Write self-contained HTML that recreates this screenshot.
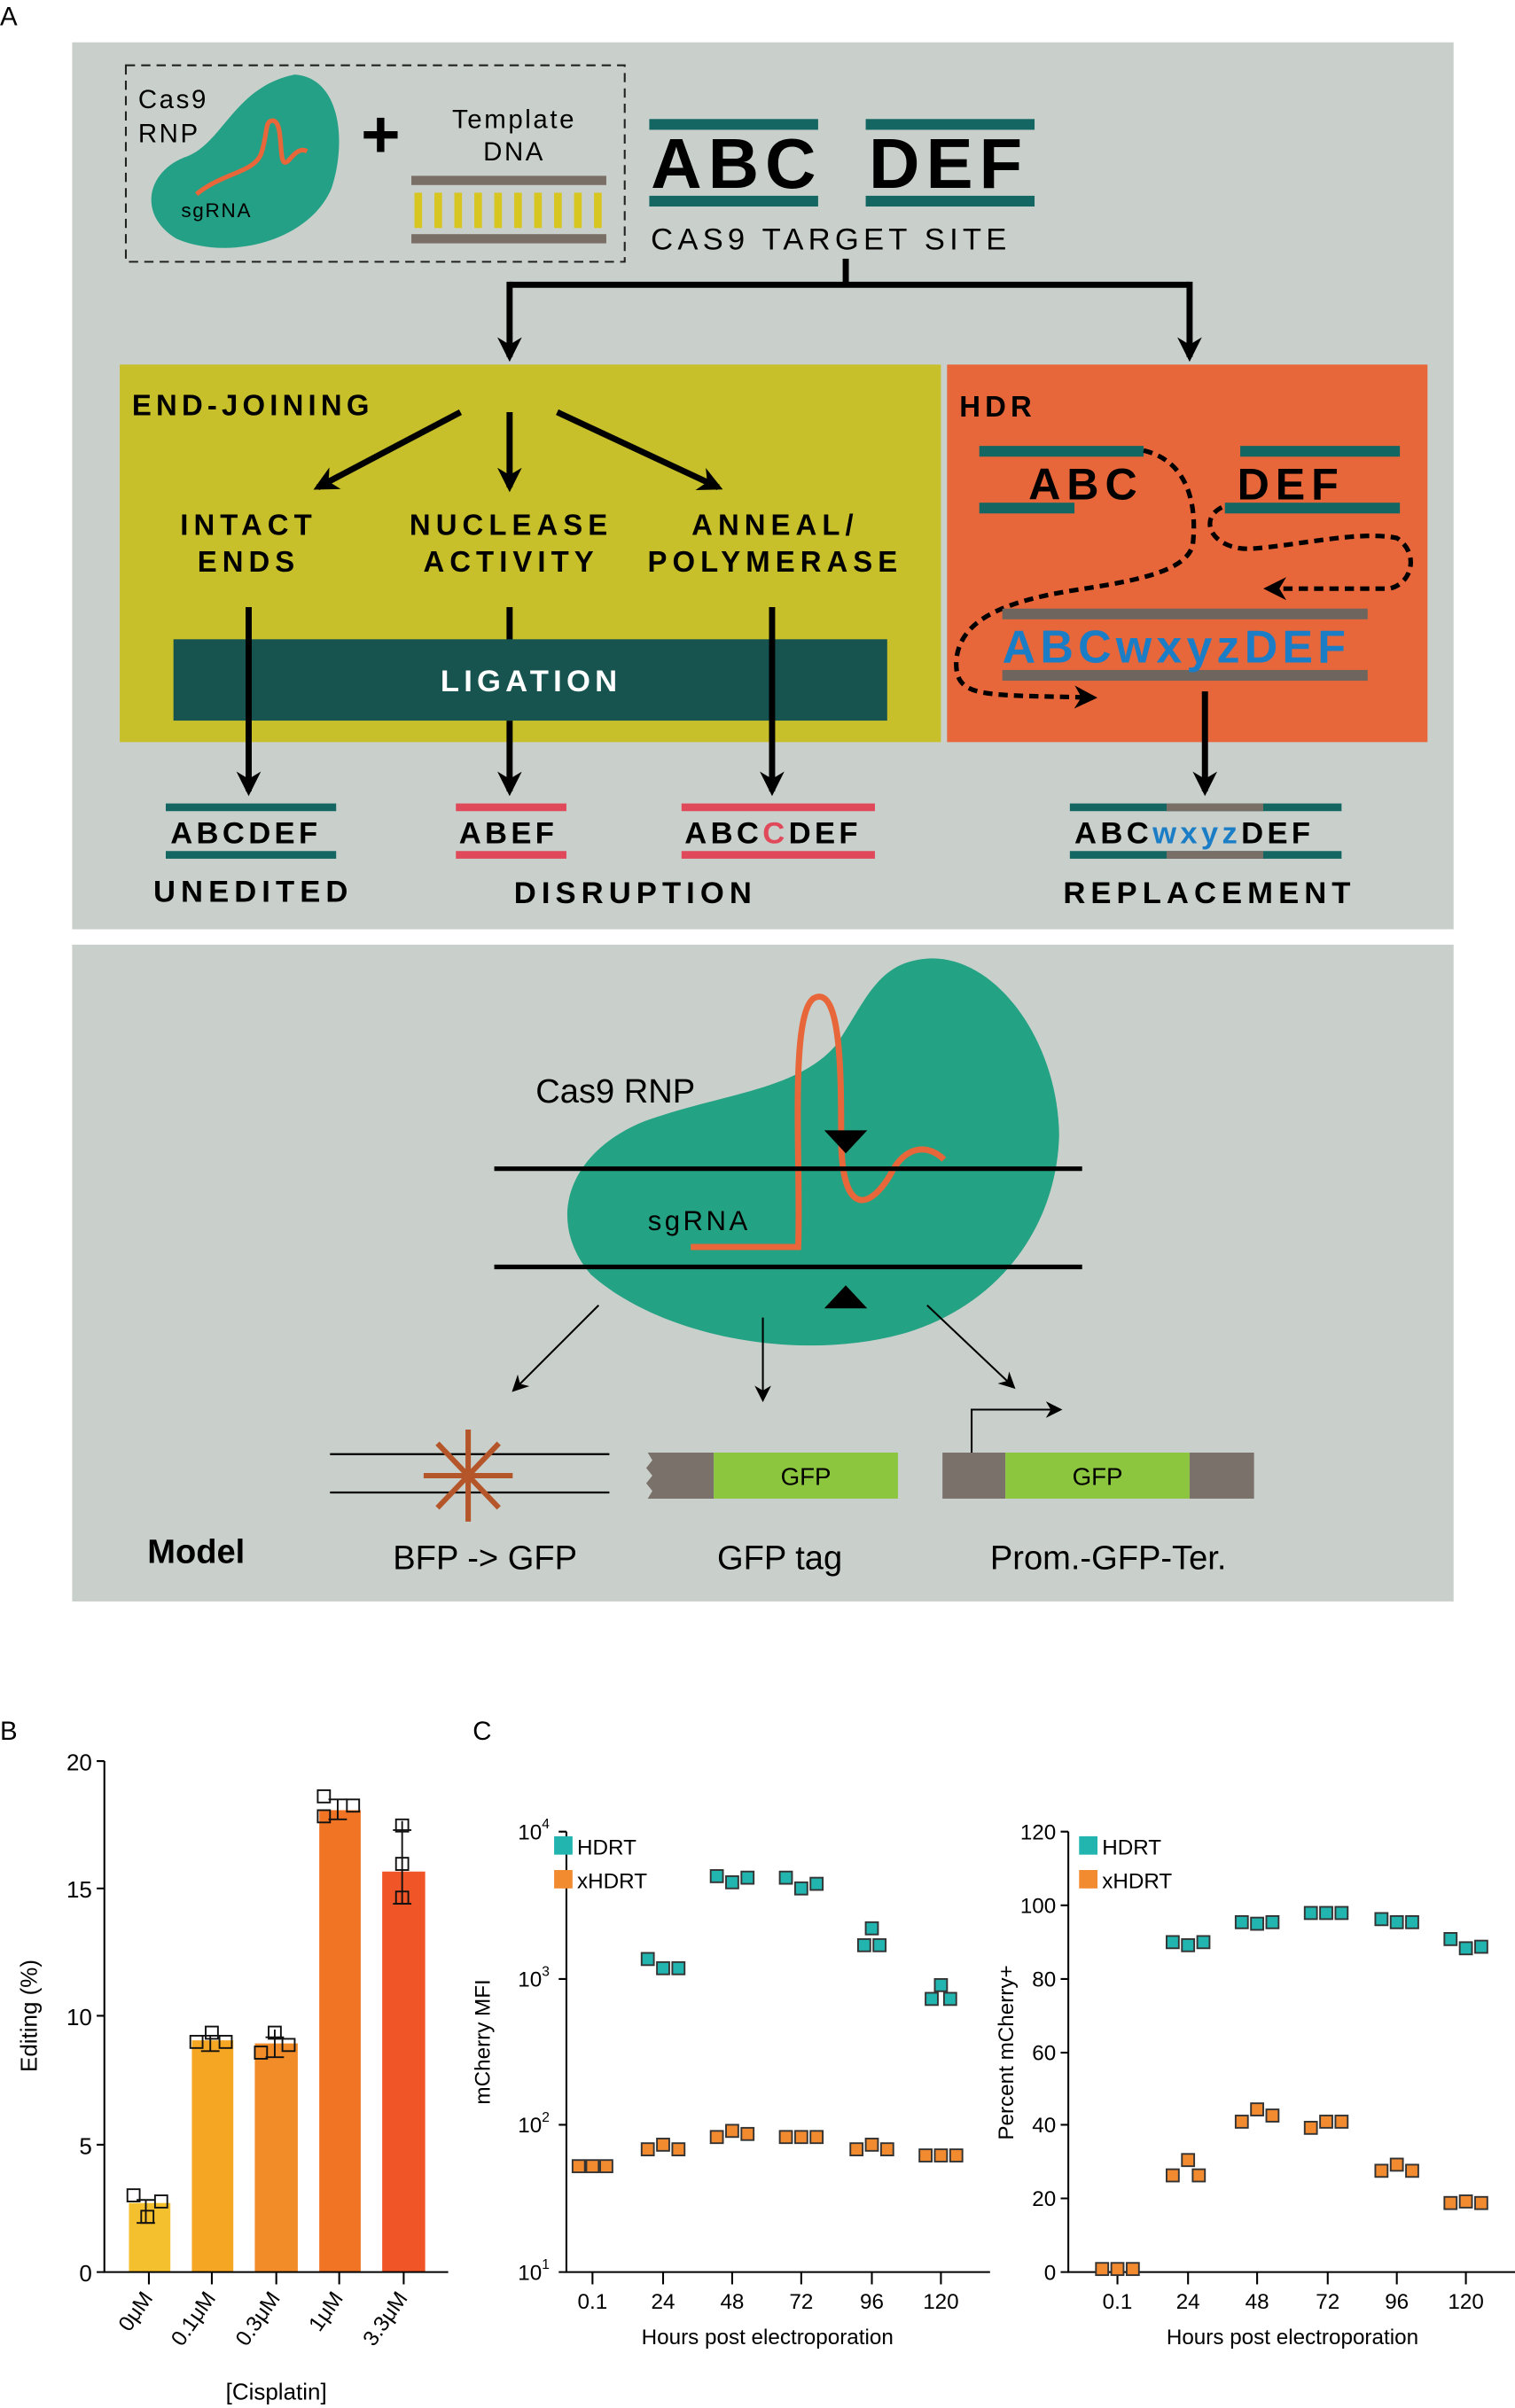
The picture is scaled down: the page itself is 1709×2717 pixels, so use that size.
<!DOCTYPE html>
<html><head><meta charset="utf-8"><style>
html,body{margin:0;padding:0;background:#fff;}
svg{display:block;}
text{font-family:"Liberation Sans",sans-serif;}
.b{font-weight:bold;}
</style></head><body>
<svg width="1709" height="2717" viewBox="0 0 987 1568" xmlns="http://www.w3.org/2000/svg">
<defs>
<marker id="ah" viewBox="0 0 10 10" refX="8" refY="5" markerWidth="4" markerHeight="4" orient="auto"><path d="M0,0 L10,5 L0,10 L3,5 z" fill="#000"/></marker>
<marker id="ahs" viewBox="0 0 10 10" refX="8" refY="5" markerWidth="9" markerHeight="9" orient="auto"><path d="M0,0 L10,5 L0,10 L3,5 z" fill="#000"/></marker>
<marker id="ahd" viewBox="0 0 10 10" refX="8" refY="5" markerWidth="5" markerHeight="5" orient="auto"><path d="M0,0 L10,5 L0,10 L3,5 z" fill="#000"/></marker>
</defs>
<text x="0" y="16" font-size="17">A</text>
<rect x="47" y="27" width="900" height="578" fill="#c9d0cb"/>
<rect x="82" y="42" width="325" height="128" fill="none" stroke="#222" stroke-width="1.2" stroke-dasharray="6,4"/>
<text x="90" y="70" font-size="17" letter-spacing="1.5">Cas9</text>
<text x="90" y="92" font-size="17" letter-spacing="1.5">RNP</text>
<path d="M192,48 C222,50 226,92 216,122 C202,156 150,170 115,155 C90,140 95,112 120,102 C145,94 152,56 192,48 Z" fill="#23a085"/>
<path d="M128,126 C145,112 165,112 170,100 C175,85 172,78 178,78 C186,80 180,112 188,104 C193,98 196,96 200,98" stroke="#e8673a" stroke-width="3" fill="none"/>
<text x="118" y="141" font-size="13" letter-spacing="1">sgRNA</text>
<text x="248" y="102" font-size="44" class="b" text-anchor="middle">+</text>
<text x="335" y="83" font-size="17" text-anchor="middle" letter-spacing="1.5">Template</text>
<text x="335" y="104" font-size="17" text-anchor="middle" letter-spacing="1.5">DNA</text>
<rect x="268" y="114" width="127" height="6" fill="#7a6f66"/>
<rect x="268" y="152" width="127" height="6" fill="#7a6f66"/>
<g fill="#d7c622">
<rect x="270" y="125" width="5" height="23"/><rect x="283" y="125" width="5" height="23"/><rect x="296" y="125" width="5" height="23"/><rect x="309" y="125" width="5" height="23"/><rect x="322" y="125" width="5" height="23"/><rect x="335" y="125" width="5" height="23"/><rect x="348" y="125" width="5" height="23"/><rect x="361" y="125" width="5" height="23"/><rect x="374" y="125" width="5" height="23"/><rect x="387" y="125" width="5" height="23"/>
</g>
<g fill="#136662">
<rect x="423" y="77" width="110" height="7"/><rect x="564" y="77" width="110" height="7"/>
<rect x="423" y="127" width="110" height="7"/><rect x="564" y="127" width="110" height="7"/>
</g>
<text x="424" y="122" font-size="46" class="b" letter-spacing="4">ABC</text>
<text x="566" y="122" font-size="46" class="b" letter-spacing="4">DEF</text>
<text x="424" y="162" font-size="20" letter-spacing="3">CAS9 TARGET SITE</text>
<path d="M551,168 V185 M332,185 H775" stroke="#000" stroke-width="4" fill="none"/>
<line x1="332" y1="183" x2="332" y2="232" stroke="#000" stroke-width="4" marker-end="url(#ah)"/>
<line x1="775" y1="183" x2="775" y2="232" stroke="#000" stroke-width="4" marker-end="url(#ah)"/>
<rect x="78" y="237" width="535" height="246" fill="#c8c02a"/>
<rect x="617" y="237" width="313" height="246" fill="#e8673a"/>
<text x="86" y="270" font-size="19" class="b" letter-spacing="3">END-JOINING</text>
<g stroke="#000" stroke-width="4" marker-end="url(#ah)">
<line x1="300" y1="268" x2="207" y2="317"/>
<line x1="332" y1="268" x2="332" y2="317"/>
<line x1="363" y1="268" x2="468" y2="317"/>
</g>
<g font-size="19" class="b" letter-spacing="3.5" text-anchor="middle">
<text x="162" y="348">INTACT</text><text x="162" y="372">ENDS</text>
<text x="333" y="348">NUCLEASE</text><text x="333" y="372">ACTIVITY</text>
<text x="505" y="348">ANNEAL/</text><text x="505" y="372">POLYMERASE</text>
</g>
<line x1="332" y1="395" x2="332" y2="420" stroke="#000" stroke-width="4"/>
<rect x="113" y="416" width="465" height="53" fill="#17544f"/>
<text x="346" y="450" font-size="20" class="b" fill="#fff" text-anchor="middle" letter-spacing="3">LIGATION</text>
<g stroke="#000" stroke-width="4" marker-end="url(#ah)">
<line x1="162" y1="395" x2="162" y2="515"/>
<line x1="332" y1="469" x2="332" y2="515"/>
<line x1="503" y1="395" x2="503" y2="515"/>
<line x1="785" y1="450" x2="785" y2="515"/>
</g>
<text x="625" y="271" font-size="19" class="b" letter-spacing="3">HDR</text>
<g fill="#136662">
<rect x="638" y="290" width="107" height="7"/><rect x="808" y="290" width="104" height="7"/>
<rect x="638" y="327" width="62" height="7"/><rect x="798" y="327" width="114" height="7"/>
</g>
<text x="670" y="325" font-size="29" class="b" letter-spacing="4">ABC</text>
<text x="806" y="325" font-size="29" class="b" letter-spacing="4">DEF</text>
<path d="M745,293 C775,300 780,330 777,355 C772,372 740,378 700,384 C650,392 625,405 623,430 C622,455 640,452 712,454" stroke="#000" stroke-width="3" stroke-dasharray="6,4" fill="none" marker-end="url(#ahd)"/>
<path d="M796,330 C780,338 790,358 815,357 C845,355 885,345 910,350 C925,360 920,380 905,383 L826,383" stroke="#000" stroke-width="3" stroke-dasharray="6,4" fill="none" marker-end="url(#ahd)"/>
<rect x="653" y="396" width="238" height="7" fill="#6e665e"/>
<rect x="653" y="436" width="238" height="7" fill="#6e665e"/>
<text x="653" y="431" font-size="30" class="b" fill="#1a7dc6" letter-spacing="3">ABCwxyzDEF</text>
<rect x="108" y="523" width="111" height="5" fill="#136662"/><rect x="108" y="554" width="111" height="5" fill="#136662"/>
<text x="111" y="549" font-size="20" class="b" letter-spacing="2.5">ABCDEF</text>
<rect x="297" y="523" width="72" height="5" fill="#e0495a"/><rect x="297" y="554" width="72" height="5" fill="#e0495a"/>
<text x="299" y="549" font-size="20" class="b" letter-spacing="2.5">ABEF</text>
<rect x="444" y="523" width="126" height="5" fill="#e0495a"/><rect x="444" y="554" width="126" height="5" fill="#e0495a"/>
<text x="446" y="549" font-size="20" class="b" letter-spacing="2.5">ABC<tspan fill="#e0495a">C</tspan>DEF</text>
<rect x="697" y="523" width="177" height="5" fill="#136662"/><rect x="697" y="554" width="177" height="5" fill="#136662"/>
<rect x="760" y="523" width="63" height="5" fill="#7a6f66"/><rect x="760" y="554" width="63" height="5" fill="#7a6f66"/>
<text x="700" y="549" font-size="20" class="b" letter-spacing="2.5">ABC<tspan fill="#1a7dc6">wxyz</tspan>DEF</text>
<g font-size="20" class="b" letter-spacing="3.5" text-anchor="middle">
<text x="165" y="587">UNEDITED</text>
<text x="414" y="588">DISRUPTION</text>
<text x="788" y="588">REPLACEMENT</text>
</g>
<rect x="47" y="615" width="900" height="428" fill="#c9d0cb"/>
<path d="M605,624 C650,622 690,680 690,740 C688,800 650,850 590,868 C520,888 430,870 385,830 C355,795 370,750 420,730 C470,712 520,710 545,680 C565,650 572,626 605,624 Z" fill="#24a284"/>
<path d="M450,812 L520,812 C522,760 514,662 530,650 C548,640 548,700 548,740 C548,790 565,790 580,765 C590,745 605,745 615,755" stroke="#e8673a" stroke-width="4" fill="none"/>
<line x1="322" y1="761" x2="705" y2="761" stroke="#000" stroke-width="3"/>
<line x1="322" y1="825" x2="705" y2="825" stroke="#000" stroke-width="3"/>
<path d="M537,736 L565,736 L551,751 Z" fill="#000"/>
<path d="M537,852 L565,852 L551,837 Z" fill="#000"/>
<text x="349" y="718" font-size="22">Cas9 RNP</text>
<text x="422" y="801" font-size="18" letter-spacing="2">sgRNA</text>
<g stroke="#000" stroke-width="1.2" marker-end="url(#ahs)">
<line x1="390" y1="850" x2="335" y2="905"/>
<line x1="497" y1="858" x2="497" y2="911"/>
<line x1="604" y1="850" x2="660" y2="903"/>
</g>
<line x1="215" y1="947" x2="397" y2="947" stroke="#000" stroke-width="1.3"/>
<line x1="215" y1="972" x2="397" y2="972" stroke="#000" stroke-width="1.3"/>
<g stroke="#b5562a" stroke-width="3.5">
<line x1="305" y1="931" x2="305" y2="991"/><line x1="276" y1="961" x2="334" y2="961"/>
<line x1="285" y1="940" x2="325" y2="982"/><line x1="325" y1="940" x2="285" y2="982"/>
</g>
<path d="M422,946 L465,946 L465,976 L422,976 L425,971 L421,966 L425,961 L421,956 L425,951 Z" fill="#7a716a"/>
<rect x="465" y="946" width="120" height="30" fill="#8cc63f"/>
<text x="525" y="967" font-size="16" text-anchor="middle">GFP</text>
<rect x="614" y="946" width="41" height="30" fill="#7a716a"/>
<rect x="655" y="946" width="120" height="30" fill="#8cc63f"/>
<rect x="775" y="946" width="42" height="30" fill="#7a716a"/>
<text x="715" y="967" font-size="16" text-anchor="middle">GFP</text>
<path d="M633,946 V918 H690" stroke="#000" stroke-width="1.2" fill="none" marker-end="url(#ahs)"/>
<text x="96" y="1018" font-size="22" class="b">Model</text>
<g font-size="22" text-anchor="middle">
<text x="316" y="1022">BFP -&gt; GFP</text>
<text x="508" y="1022">GFP tag</text>
<text x="722" y="1022">Prom.-GFP-Ter.</text>
</g>
<text x="0" y="1133" font-size="17">B</text>
<text x="308" y="1133" font-size="17">C</text>
<rect x="84" y="1435" width="27" height="45" fill="#f5c02e"/>
<rect x="125" y="1329" width="27" height="151" fill="#f5a623"/>
<rect x="166" y="1331" width="28" height="149" fill="#f28c28"/>
<rect x="208" y="1179" width="27" height="301" fill="#f07424"/>
<rect x="249" y="1219" width="28" height="261" fill="#ef5527"/>
<g stroke="#000" stroke-width="1.2" fill="none">
<path d="M68,1147 V1480 H292"/>
<path d="M63,1147 H68 M63,1230 H68 M63,1313 H68 M63,1397 H68 M63,1480 H68"/>
<path d="M97,1480 V1488 M138,1480 V1488 M180,1480 V1488 M221,1480 V1488 M263,1480 V1488"/>
</g>
<g font-size="15" text-anchor="end">
<text x="60" y="1153">20</text><text x="60" y="1236">15</text><text x="60" y="1319">10</text><text x="60" y="1403">5</text><text x="60" y="1486">0</text>
</g>
<g font-size="14" text-anchor="end">
<text transform="translate(100,1497) rotate(-55)">0μM</text>
<text transform="translate(141,1497) rotate(-55)">0.1μM</text>
<text transform="translate(183,1497) rotate(-55)">0.3μM</text>
<text transform="translate(224,1497) rotate(-55)">1μM</text>
<text transform="translate(266,1497) rotate(-55)">3.3μM</text>
</g>
<text x="180" y="1563" font-size="15" text-anchor="middle">[Cisplatin]</text>
<text transform="translate(24,1313) rotate(-90)" font-size="15" text-anchor="middle">Editing (%)</text>
<g fill="none" stroke="#111" stroke-width="1.1">
<rect x="83" y="1426" width="8" height="8"/><rect x="92" y="1440" width="8" height="8"/><rect x="101" y="1430" width="8" height="8"/>
<path d="M89,1433 H101 M95,1433 V1448 M89,1448 H101"/>
<rect x="124" y="1326" width="8" height="8"/><rect x="134" y="1320" width="8" height="8"/><rect x="143" y="1326" width="8" height="8"/>
<path d="M131,1326 H143 M137,1326 V1336 M131,1336 H143"/>
<rect x="166" y="1333" width="8" height="8"/><rect x="175" y="1320" width="8" height="8"/><rect x="184" y="1328" width="8" height="8"/>
<path d="M173,1327 H185 M179,1322 V1340 M173,1340 H185"/>
<rect x="207" y="1166" width="8" height="8"/><rect x="207" y="1179" width="8" height="8"/><rect x="226" y="1172" width="8" height="8"/>
<path d="M214,1172 H226 M220,1172 V1185 M214,1185 H226"/>
<rect x="258" y="1185" width="8" height="8"/><rect x="258" y="1210" width="8" height="8"/><rect x="258" y="1232" width="8" height="8"/>
<path d="M256,1192 H268 M262,1186 V1240 M256,1240 H268"/>
</g>
<g stroke="#000" stroke-width="1.2" fill="none">
<path d="M369,1193 V1480 H645"/>
<path d="M364,1193 H369 M364,1289 H369 M364,1384 H369 M364,1480 H369"/>
<path d="M386,1480 V1488 M432,1480 V1488 M477,1480 V1488 M522,1480 V1488 M568,1480 V1488 M613,1480 V1488"/>
<path d="M696,1193 V1480 H987"/>
<path d="M691,1193 H696 M691,1241 H696 M691,1289 H696 M691,1337 H696 M691,1384 H696 M691,1432 H696 M691,1480 H696"/>
<path d="M728,1480 V1488 M774,1480 V1488 M819,1480 V1488 M865,1480 V1488 M910,1480 V1488 M955,1480 V1488"/>
</g>
<g font-size="14" text-anchor="end">
<text x="358" y="1198">10<tspan font-size="9" dy="-7">4</tspan></text>
<text x="358" y="1294">10<tspan font-size="9" dy="-7">3</tspan></text>
<text x="358" y="1389">10<tspan font-size="9" dy="-7">2</tspan></text>
<text x="358" y="1485">10<tspan font-size="9" dy="-7">1</tspan></text>
<text x="688" y="1198">120</text><text x="688" y="1246">100</text><text x="688" y="1294">80</text><text x="688" y="1342">60</text><text x="688" y="1389">40</text><text x="688" y="1437">20</text><text x="688" y="1485">0</text>
</g>
<g font-size="14" text-anchor="middle">
<text x="386" y="1504">0.1</text><text x="432" y="1504">24</text><text x="477" y="1504">48</text><text x="522" y="1504">72</text><text x="568" y="1504">96</text><text x="613" y="1504">120</text>
<text x="728" y="1504">0.1</text><text x="774" y="1504">24</text><text x="819" y="1504">48</text><text x="865" y="1504">72</text><text x="910" y="1504">96</text><text x="955" y="1504">120</text>
<text x="500" y="1527">Hours post electroporation</text>
<text x="842" y="1527">Hours post electroporation</text>
</g>
<text transform="translate(319,1330) rotate(-90)" font-size="14" text-anchor="middle">mCherry MFI</text>
<text transform="translate(660,1337) rotate(-90)" font-size="14" text-anchor="middle">Percent mCherry+</text>
<g font-size="14">
<rect x="361" y="1196" width="12" height="12" fill="#22b5b0"/><text x="376" y="1208">HDRT</text>
<rect x="361" y="1218" width="12" height="12" fill="#f28a30"/><text x="376" y="1230">xHDRT</text>
<rect x="703" y="1196" width="12" height="12" fill="#22b5b0"/><text x="718" y="1208">HDRT</text>
<rect x="703" y="1218" width="12" height="12" fill="#f28a30"/><text x="718" y="1230">xHDRT</text>
</g>
<g stroke="#333" stroke-width="1.1" fill="#f28a30">
<rect x="373" y="1407" width="8" height="8"/><rect x="382" y="1407" width="8" height="8"/><rect x="391" y="1407" width="8" height="8"/>
<rect x="418" y="1396" width="8" height="8"/><rect x="428" y="1393" width="8" height="8"/><rect x="438" y="1396" width="8" height="8"/>
<rect x="463" y="1388" width="8" height="8"/><rect x="473" y="1384" width="8" height="8"/><rect x="483" y="1386" width="8" height="8"/>
<rect x="508" y="1388" width="8" height="8"/><rect x="518" y="1388" width="8" height="8"/><rect x="528" y="1388" width="8" height="8"/>
<rect x="554" y="1396" width="8" height="8"/><rect x="564" y="1393" width="8" height="8"/><rect x="574" y="1396" width="8" height="8"/>
<rect x="599" y="1400" width="8" height="8"/><rect x="609" y="1400" width="8" height="8"/><rect x="619" y="1400" width="8" height="8"/>
<rect x="714" y="1474" width="8" height="8"/><rect x="724" y="1474" width="8" height="8"/><rect x="734" y="1474" width="8" height="8"/>
<rect x="760" y="1413" width="8" height="8"/><rect x="770" y="1403" width="8" height="8"/><rect x="777" y="1413" width="8" height="8"/>
<rect x="805" y="1378" width="8" height="8"/><rect x="815" y="1370" width="8" height="8"/><rect x="825" y="1374" width="8" height="8"/>
<rect x="850" y="1382" width="8" height="8"/><rect x="860" y="1378" width="8" height="8"/><rect x="870" y="1378" width="8" height="8"/>
<rect x="896" y="1410" width="8" height="8"/><rect x="906" y="1406" width="8" height="8"/><rect x="916" y="1410" width="8" height="8"/>
<rect x="941" y="1431" width="8" height="8"/><rect x="951" y="1430" width="8" height="8"/><rect x="961" y="1431" width="8" height="8"/>
</g>
<g stroke="#333" stroke-width="1.1" fill="#22b5b0">
<rect x="418" y="1272" width="8" height="8"/><rect x="428" y="1278" width="8" height="8"/><rect x="438" y="1278" width="8" height="8"/>
<rect x="463" y="1218" width="8" height="8"/><rect x="473" y="1222" width="8" height="8"/><rect x="483" y="1219" width="8" height="8"/>
<rect x="508" y="1219" width="8" height="8"/><rect x="518" y="1226" width="8" height="8"/><rect x="528" y="1223" width="8" height="8"/>
<rect x="564" y="1252" width="8" height="8"/><rect x="559" y="1263" width="8" height="8"/><rect x="569" y="1263" width="8" height="8"/>
<rect x="609" y="1289" width="8" height="8"/><rect x="603" y="1298" width="8" height="8"/><rect x="615" y="1298" width="8" height="8"/>
<rect x="760" y="1261" width="8" height="8"/><rect x="770" y="1263" width="8" height="8"/><rect x="780" y="1261" width="8" height="8"/>
<rect x="805" y="1248" width="8" height="8"/><rect x="815" y="1249" width="8" height="8"/><rect x="825" y="1248" width="8" height="8"/>
<rect x="850" y="1242" width="8" height="8"/><rect x="860" y="1242" width="8" height="8"/><rect x="870" y="1242" width="8" height="8"/>
<rect x="896" y="1246" width="8" height="8"/><rect x="906" y="1248" width="8" height="8"/><rect x="916" y="1248" width="8" height="8"/>
<rect x="941" y="1259" width="8" height="8"/><rect x="951" y="1265" width="8" height="8"/><rect x="961" y="1264" width="8" height="8"/>
</g>
</svg>
</body></html>
